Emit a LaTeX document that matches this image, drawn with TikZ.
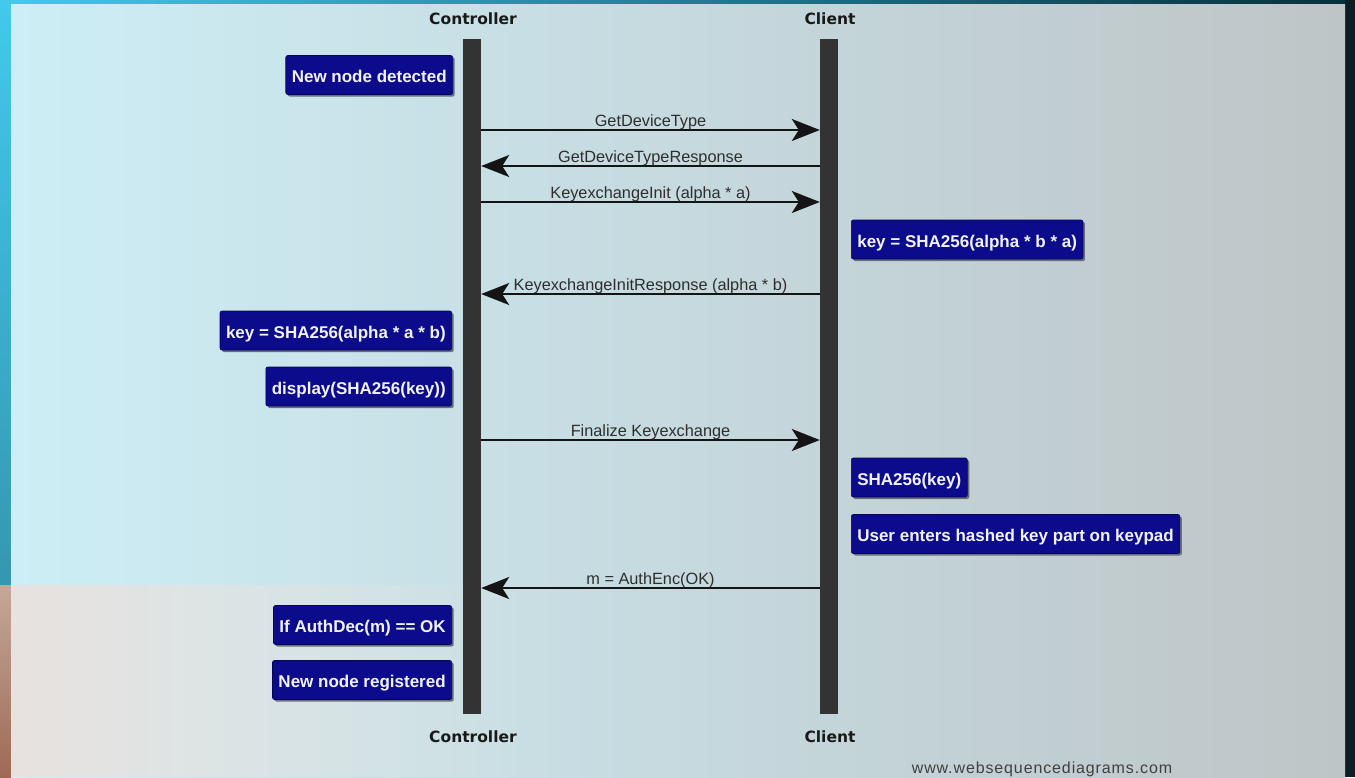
\documentclass[tikz,border=0pt]{standalone}
\usepackage{fontspec}
\setmainfont{Liberation Sans}
\newfontfamily\headfont{DejaVu Sans}
\newfontfamily\markfont{Liberation Sans}[LetterSpace=5.5]
\usetikzlibrary{arrows.meta,shadows,fadings}

\definecolor{notefill}{HTML}{0B0B8C}
\definecolor{noteedge}{HTML}{05055E}
\definecolor{notetext}{HTML}{F2F2FF}
\definecolor{shadowgray}{HTML}{687076}
\definecolor{barfill}{HTML}{333333}
\definecolor{msgink}{HTML}{141414}
\definecolor{lblink}{HTML}{2E2E2E}
\definecolor{bgLeft}{HTML}{CDEEF6}
\definecolor{bgMid}{HTML}{C2D6DB}
\definecolor{bgRight}{HTML}{BEC5C7}
\definecolor{bgWarm}{HTML}{E8E2DF}
\definecolor{frameDark}{HTML}{0B1E25}
\definecolor{edgeCyan}{HTML}{42C9EC}
\definecolor{edgeTeal}{HTML}{3597B0}
\definecolor{edgeSand}{HTML}{C4A898}
\definecolor{edgeBrown}{HTML}{9E6A55}
\definecolor{topDark}{HTML}{06303E}

\tikzset{
  lifebar/.style={fill=barfill, draw=none, inner sep=0pt,
    minimum width=18pt, minimum height=675pt},
  actor/.style={font=\headfont\bfseries\fontsize{15.5}{18}\selectfont,
    text=black!90, inner sep=0pt},
  note/.style={fill=notefill, draw=noteedge, line width=0.6pt,
    rounded corners=2pt, text=notetext,
    font=\bfseries\fontsize{17}{20}\selectfont,
    inner xsep=6pt, inner ysep=0pt, minimum height=39pt,
    text height=15.5pt, text depth=0pt,
    general shadow={shadow xshift=2pt, shadow yshift=-2pt, fill=shadowgray}},
  msg/.style={draw=msgink, line width=1.8pt,
    -{Stealth[length=28pt, width=22pt, inset=7pt]}},
  lbl/.style={font=\fontsize{16.3}{19}\selectfont, text=lblink,
    anchor=base, inner sep=0pt, yshift=4pt, midway},
  footertext/.style={font=\markfont\fontsize{16}{19}\selectfont, text=black!75,
    anchor=base, inner sep=0pt},
}

\begin{document}
\begin{tikzpicture}[x=1pt, y=-1pt]
\useasboundingbox (0,0) rectangle (1355,777);

% window frame and backdrop
\fill[frameDark] (0,0) rectangle (1355,777);
\shade[top color=edgeCyan, bottom color=edgeTeal] (0,0) rectangle (11,585);
\shade[top color=edgeSand, bottom color=edgeBrown] (0,585) rectangle (11,777);
\shade[left color=edgeCyan, right color=topDark] (11,0) rectangle (1345,4);
\shade[left color=bgLeft, middle color=bgMid, right color=bgRight]
  (11,4) rectangle (1345,777);
\fill[bgWarm, path fading=east] (11,585) rectangle (560,777);

% lifelines
\node[lifebar] (ctl) at (472,376.5) {};
\node[lifebar] (cli) at (829,376.5) {};

% participant names
\node[actor] (ctlTop) at (473,19) {Controller};
\node[actor] (cliTop) at (830,19) {Client};
\node[actor] (ctlBot) at (473,737) {Controller};
\node[actor] (cliBot) at (830,737) {Client};

% notes
\node[note, anchor=east] (n1) at (453,75) {New node detected};
\node[note, anchor=west] (n2) at (851,239.5) {key = SHA256(alpha * b * a)};
\node[note, anchor=east] (n3) at (452,330.5) {key = SHA256(alpha * a * b)};
\node[note, anchor=east] (n4) at (452,386.5) {display(SHA256(key))};
\node[note, anchor=west] (n5) at (851,477.5) {SHA256(key)};
\node[note, anchor=west] (n6) at (851,534) {User enters hashed key part on keypad};
\node[note, anchor=east] (n7) at (452,625) {If AuthDec(m) == OK};
\node[note, anchor=east] (n8) at (452,680) {New node registered};

% messages
\draw[msg] (ctl.east |- 0,130) -- node[lbl] (m1) {GetDeviceType} (cli.west |- 0,130);
\draw[msg] (cli.west |- 0,166) -- node[lbl] (m2) {GetDeviceTypeResponse} (ctl.east |- 0,166);
\draw[msg] (ctl.east |- 0,202) -- node[lbl] (m3) {KeyexchangeInit (alpha * a)} (cli.west |- 0,202);
\draw[msg] (cli.west |- 0,294) -- node[lbl] (m4) {KeyexchangeInitResponse (alpha * b)} (ctl.east |- 0,294);
\draw[msg] (ctl.east |- 0,440) -- node[lbl] (m5) {Finalize Keyexchange} (cli.west |- 0,440);
\draw[msg] (cli.west |- 0,588) -- node[lbl] (m6) {m = AuthEnc(OK)} (ctl.east |- 0,588);

% footer
\node[footertext] (wsd) at (1042,773) {www.websequencediagrams.com};
\end{tikzpicture}
\end{document}
